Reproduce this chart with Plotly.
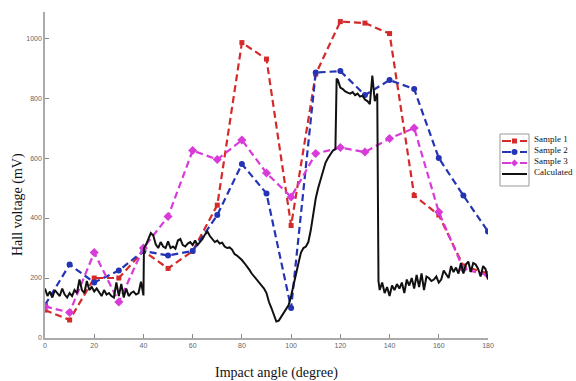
import plotly.graph_objects as go

# Measured Hall voltage (mV) at each impact angle (degree)
angles = [0, 10, 20, 30, 40, 50, 60, 70, 80, 90, 100, 110, 120, 130, 140, 150, 160, 170, 180]
sample1 = [93, 60, 200, 200, 290, 232, 290, 443, 985, 930, 375, 880, 1055, 1050, 1015, 475, 410, 240, 215]
sample2 = [110, 245, 185, 225, 290, 275, 290, 410, 580, 482, 100, 885, 890, 810, 860, 830, 600, 475, 355]
sample3 = [105, 85, 285, 120, 300, 405, 625, 595, 660, 550, 470, 615, 635, 620, 665, 700, 420, 230, 210]

# Calculated response
calc_angle = [0, 1, 2, 3, 4, 5, 6, 7, 8, 9, 10, 11, 12, 13, 14, 15, 16, 17, 18, 19,
              20, 21, 22, 23, 24, 25, 26, 27, 28, 29, 30, 31, 32, 33, 34, 35, 36, 37, 38, 39,
              40, 40.2, 41, 42, 43, 44, 45, 46, 47, 48, 49, 50, 51, 52, 53, 54, 55, 56, 57, 58, 59,
              60, 61, 62, 63, 64, 65, 66, 67, 68, 69, 70, 71, 72, 73, 74, 75, 76, 77, 78, 79,
              80, 81, 82, 83, 84, 85, 86, 87, 88, 89, 90, 91, 92, 93, 94, 95, 96, 97, 98, 99,
              100, 101, 102, 103, 104, 105, 106, 107, 108, 109, 110, 111, 112, 113, 114, 115, 116, 117, 118,
              118.5, 119, 120, 121, 122, 123, 124, 125, 126, 127, 128, 129, 130, 131, 132, 133, 134, 135,
              135.5, 136, 137, 138, 139, 140, 141, 142, 143, 144, 145, 146, 147, 148, 149,
              150, 151, 152, 153, 154, 155, 156, 157, 158, 159, 160, 161, 162, 163, 164, 165, 166, 167, 168, 169,
              170, 171, 172, 173, 174, 175, 176, 177, 178, 179, 180]
calc_voltage = [165, 140, 155, 135, 160, 150, 140, 165, 145, 135, 150, 140, 160, 150, 195, 160, 150, 190, 160, 170,
                155, 165, 150, 140, 160, 145, 150, 140, 135, 185, 140, 180, 135, 165, 140, 150, 155, 145, 150, 188,
                142, 300, 310, 330, 350, 342, 312, 300, 320, 305, 300, 322, 300, 305, 298, 325, 330, 310, 305, 315, 320,
                310, 325, 310, 320, 330, 345, 355, 340, 330, 320, 325, 315, 318, 305, 300, 302, 295, 280, 275, 268,
                260, 250, 240, 228, 215, 205, 195, 185, 175, 165, 150, 120, 100, 75, 55, 58, 70, 85, 95, 110,
                140, 180, 220, 250, 285, 300, 305, 320, 360, 420, 465, 500, 530, 560, 585, 600, 615, 625, 630,
                865, 860, 835, 830, 822, 818, 815, 820, 810, 815, 805, 808, 795, 790, 780, 875, 790, 815,
                190, 160, 185, 150, 170, 140, 175, 160, 180, 165, 185, 150, 195, 175, 200,
                165, 210, 170, 215, 160, 205, 200, 190, 195, 205, 185, 195, 225, 210, 200, 240, 220, 235, 215, 250,
                215, 245, 255, 220, 250, 245, 230, 205, 240, 230, 195]

RED = "#d42a2a"
BLUE = "#2434b4"
MAGENTA = "#d93bd9"
BLACK = "#111111"

fig = go.Figure()
fig.add_trace(go.Scatter(x=angles, y=sample1, mode="lines+markers", name="Sample 1",
                         line=dict(color=RED, width=2.2, dash="7px,4px"),
                         marker=dict(symbol="square", size=5, color=RED)))
fig.add_trace(go.Scatter(x=angles, y=sample2, mode="lines+markers", name="Sample 2",
                         line=dict(color=BLUE, width=2.2, dash="7px,4px"),
                         marker=dict(symbol="circle", size=6, color=BLUE)))
fig.add_trace(go.Scatter(x=angles, y=sample3, mode="lines+markers", name="Sample 3",
                         line=dict(color=MAGENTA, width=2.2, dash="7px,4px"),
                         marker=dict(symbol="diamond", size=7, color=MAGENTA)))
fig.add_trace(go.Scatter(x=calc_angle, y=calc_voltage, mode="lines", name="Calculated",
                         line=dict(color=BLACK, width=2)))

W, H = 576, 381
L, R, T, B = 45, 88, 12, 43
pw, ph = W - L - R, H - T - B


def px(xp):
    return (xp - L) / pw


def py(yp):
    return (H - B - yp) / ph


shapes = []
annotations = []

# Legend frame and entries
shapes.append(dict(type="rect", xref="paper", yref="paper",
                   x0=px(500), x1=px(529), y0=py(186), y1=py(134),
                   line=dict(color="#999999", width=1), fillcolor="white", layer="above"))
entries = [("Sample 1", RED, "square", 141), ("Sample 2", BLUE, "circle", 152),
           ("Sample 3", MAGENTA, "diamond", 163), ("Calculated", BLACK, None, 174)]
for name, col, sym, yy in entries:
    shapes.append(dict(type="line", xref="paper", yref="paper",
                       x0=px(502), x1=px(527), y0=py(yy), y1=py(yy),
                       line=dict(color=col, width=2, dash="dash" if sym else "solid"), layer="above"))
    cx = 514.5
    if sym == "square":
        shapes.append(dict(type="rect", xref="paper", yref="paper",
                           x0=px(cx - 2.5), x1=px(cx + 2.5), y0=py(yy + 2.5), y1=py(yy - 2.5),
                           line=dict(width=0), fillcolor=col, layer="above"))
    elif sym == "circle":
        shapes.append(dict(type="circle", xref="paper", yref="paper",
                           x0=px(cx - 3), x1=px(cx + 3), y0=py(yy + 3), y1=py(yy - 3),
                           line=dict(width=0), fillcolor=col, layer="above"))
    elif sym == "diamond":
        d = 3.5
        path = "M {} {} L {} {} L {} {} L {} {} Z".format(
            px(cx), py(yy - d), px(cx + d), py(yy), px(cx), py(yy + d), px(cx - d), py(yy))
        shapes.append(dict(type="path", xref="paper", yref="paper", path=path,
                           line=dict(width=0), fillcolor=col, layer="above"))
    annotations.append(dict(x=px(532), y=py(yy - 2), xref="paper", yref="paper",
                            text=name, showarrow=False, xanchor="left", yanchor="middle",
                            font=dict(family="Liberation Serif", size=9, color="#111111")))

# Axis titles placed as free text so the plot area stays fixed
annotations.append(dict(x=px(276), y=py(373), xref="paper", yref="paper",
                        text="Impact angle (degree)", showarrow=False,
                        xanchor="center", yanchor="middle",
                        font=dict(family="Liberation Serif", size=14, color="#111111")))
annotations.append(dict(x=px(18), y=py(205), xref="paper", yref="paper",
                        text="Hall voltage (mV)", showarrow=False, textangle=-90,
                        xanchor="center", yanchor="middle",
                        font=dict(family="Liberation Serif", size=14, color="#111111")))

tick_font = dict(family="Liberation Sans, Arial", size=7, color="#666666")
fig.update_layout(
    width=W, height=H,
    margin=dict(l=L, r=R, t=T, b=B, pad=0, autoexpand=False),
    paper_bgcolor="white", plot_bgcolor="white",
    showlegend=False,
    shapes=shapes, annotations=annotations,
    xaxis=dict(range=[0, 180], tickvals=[0, 20, 40, 60, 80, 100, 120, 140, 160, 180],
               ticks="inside", ticklen=4, tickcolor="#888888", showgrid=False, zeroline=False,
               showline=True, linecolor="#aaaaaa", linewidth=1.5, tickfont=tick_font,
               automargin=False),
    yaxis=dict(range=[0, 1087], tickvals=[0, 200, 400, 600, 800, 1000],
               ticks="inside", ticklen=4, tickcolor="#888888", showgrid=False, zeroline=False,
               showline=True, linecolor="#aaaaaa", linewidth=1.5, tickfont=tick_font,
               automargin=False),
)

fig.write_html("out.html")
